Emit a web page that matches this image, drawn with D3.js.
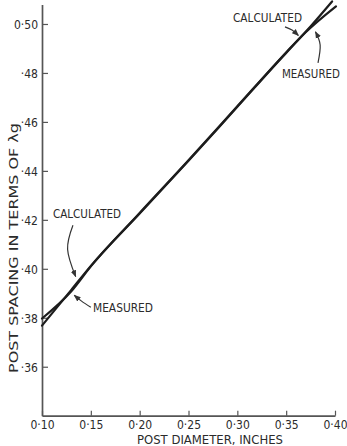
<!DOCTYPE html>
<html>
<head>
<meta charset="utf-8">
<script src="https://cdn.jsdelivr.net/npm/d3@7"></script>
<style>
  html, body { margin: 0; padding: 0; background: #fff; }
  svg { display: block; }
  text {
    font-family: "DejaVu Sans Condensed", "Liberation Sans Narrow", "DejaVu Sans", sans-serif;
    font-stretch: condensed;
    fill: #2b2b2b;
  }
</style>
</head>
<body>
<svg id="chart" width="347" height="446"></svg>
<script>
// Post spacing (in guide wavelengths) against post diameter (inches)
const calcDiameter = [0.100, 0.130, 0.150, 0.200, 0.250, 0.300, 0.350, 0.370, 0.397];
const calcSpacing  = [0.3797, 0.3908, 0.4010, 0.4228, 0.4443, 0.4664, 0.4884, 0.4968, 0.5092];
const measDiameter = [0.100, 0.130, 0.150, 0.200, 0.250, 0.300, 0.350, 0.370, 0.401];
const measSpacing  = [0.3768, 0.3914, 0.4012, 0.4226, 0.4441, 0.4662, 0.4882, 0.4966, 0.5072];

const xTicks = [0.10, 0.15, 0.20, 0.25, 0.30, 0.35, 0.40];
const yTicks = [0.36, 0.38, 0.40, 0.42, 0.44, 0.46, 0.48, 0.50];
const xTickLabels = ["0·10", "0·15", "0·20", "0·25", "0·30", "0·35", "0·40"];
const yTickLabels = ["·36", "·38", "·40", "·42", "·44", "·46", "·48", "0·50"];

const xTitle = "POST DIAMETER, INCHES";
const yTitle = "POST SPACING IN TERMS OF λg";

// Callout labels with their pointer curves, in data units
const callouts = [
  { text: "CALCULATED", at: [0.1113, 0.4208], width: 68,
    arrow: [[0.1317, 0.4178], [0.1262, 0.4080], [0.1345, 0.3968]] },
  { text: "MEASURED", at: [0.1522, 0.3824], width: 60,
    arrow: [[0.1500, 0.3843], [0.1405, 0.3868], [0.1330, 0.3892]] },
  { text: "CALCULATED", at: [0.2956, 0.5008], width: 69,
    arrow: [[0.3488, 0.4988], [0.3560, 0.4975], [0.3625, 0.4953]] },
  { text: "MEASURED", at: [0.3457, 0.4780], width: 58,
    arrow: [[0.3826, 0.4841], [0.3848, 0.4914], [0.3800, 0.4968]] }
];

const svg = d3.select("#chart");

const x = d3.scaleLinear().domain([0.10, 0.40]).range([42, 335]);
const y = d3.scaleLinear().domain([0.34, 0.508]).range([415.7, 4.4]);

const axisColor = "#555";

// Arrowhead
svg.append("defs").append("marker")
  .attr("id", "head")
  .attr("viewBox", "0 0 10 10")
  .attr("refX", 9).attr("refY", 5)
  .attr("markerWidth", 7).attr("markerHeight", 7)
  .attr("markerUnits", "userSpaceOnUse")
  .attr("orient", "auto")
  .append("path")
  .attr("d", "M0,1 L10,5 L0,9 Z")
  .attr("fill", "#333");

// Y axis, ticks pointing into the plot
const yAxis = d3.axisLeft(y)
  .tickValues(yTicks)
  .tickFormat((d, i) => yTickLabels[i])
  .tickSizeInner(-6)
  .tickSizeOuter(0)
  .tickPadding(4);

const gy = svg.append("g").attr("transform", "translate(42,0)").call(yAxis);
gy.select(".domain").attr("stroke", axisColor).attr("stroke-width", 1.7);
gy.selectAll(".tick line").attr("stroke", axisColor).attr("stroke-width", 1.2);
gy.selectAll(".tick text")
  .attr("font-size", 12)
  .attr("fill", "#2b2b2b")
  .attr("dy", "0.36em");

// X axis, ticks pointing up
const xAxis = d3.axisBottom(x)
  .tickValues(xTicks)
  .tickFormat((d, i) => xTickLabels[i])
  .tickSizeInner(-5)
  .tickSizeOuter(0)
  .tickPadding(5);

const gx = svg.append("g").attr("transform", "translate(0,415.7)").call(xAxis);
gx.select(".domain").attr("stroke", axisColor).attr("stroke-width", 1.7);
gx.selectAll(".tick line").attr("stroke", axisColor).attr("stroke-width", 1.2);
gx.selectAll(".tick text")
  .attr("font-size", 12)
  .attr("fill", "#2b2b2b")
  .attr("dy", "0.71em");
gx.selectAll("text").attr("font-family", null);
gy.selectAll("text").attr("font-family", null);

// Axis titles
svg.append("text")
  .attr("x", 210).attr("y", 444)
  .attr("text-anchor", "middle")
  .attr("font-size", 12)
  .attr("textLength", 146)
  .attr("lengthAdjust", "spacingAndGlyphs")
  .text(xTitle);

svg.append("text")
  .attr("transform", "translate(18,248) rotate(-90)")
  .attr("text-anchor", "middle")
  .attr("font-size", 12)
  .attr("textLength", 250)
  .attr("lengthAdjust", "spacingAndGlyphs")
  .text(yTitle);

// Curves
const line = d3.line()
  .x(d => x(d[0]))
  .y(d => y(d[1]))
  .curve(d3.curveMonotoneX);

const series = [
  d3.zip(measDiameter, measSpacing),
  d3.zip(calcDiameter, calcSpacing)
];

svg.append("g").selectAll("path")
  .data(series)
  .join("path")
  .attr("d", line)
  .attr("fill", "none")
  .attr("stroke", "#1c1c1c")
  .attr("stroke-width", 2.2)
  .attr("stroke-linecap", "round");

// Callouts
const arrowLine = d3.line()
  .x(d => x(d[0]))
  .y(d => y(d[1]))
  .curve(d3.curveNatural);

const cg = svg.append("g");
cg.selectAll("text")
  .data(callouts)
  .join("text")
  .attr("x", d => x(d.at[0]))
  .attr("y", d => y(d.at[1]))
  .attr("font-size", 12)
  .attr("textLength", d => d.width)
  .attr("lengthAdjust", "spacingAndGlyphs")
  .text(d => d.text);

cg.selectAll("path")
  .data(callouts)
  .join("path")
  .attr("d", d => arrowLine(d.arrow))
  .attr("fill", "none")
  .attr("stroke", "#333")
  .attr("stroke-width", 1.2)
  .attr("marker-end", "url(#head)");
</script>
</body>
</html>
